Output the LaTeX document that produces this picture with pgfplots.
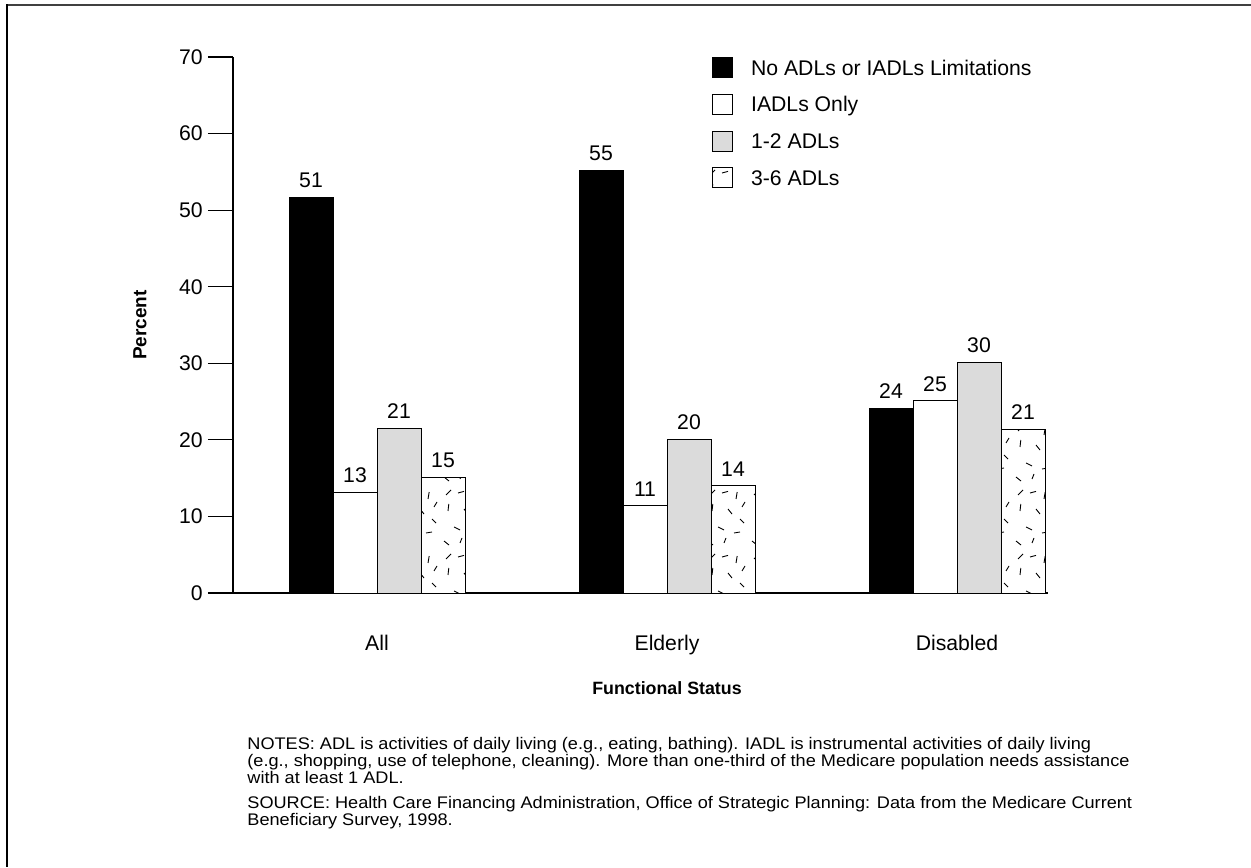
\documentclass[border=0pt]{standalone}
\usepackage{fontspec}
\setmainfont{Liberation Sans}
\newfontfamily\notesf[FakeStretch=1.08]{Liberation Sans}
\usepackage{pgfplots}
\usepackage{pgfplotstable}
\pgfplotsset{compat=1.18}
\usetikzlibrary{patterns}

\pgfdeclarepatternformonly{scatterdash}{\pgfpoint{-1pt}{-1pt}}{\pgfpoint{23pt}{33pt}}{\pgfpoint{22pt}{32pt}}{
  \pgfsetlinewidth{0.45pt}
  \pgfpathmoveto{\pgfpoint{3pt}{26pt}}\pgfpathlineto{\pgfpoint{5.5pt}{28.5pt}}
  \pgfpathmoveto{\pgfpoint{9pt}{27pt}}\pgfpathlineto{\pgfpoint{12pt}{27.8pt}}
  \pgfpathmoveto{\pgfpoint{16pt}{24pt}}\pgfpathlineto{\pgfpoint{16.6pt}{27.5pt}}
  \pgfpathmoveto{\pgfpoint{4pt}{18pt}}\pgfpathlineto{\pgfpoint{4.4pt}{21.5pt}}
  \pgfpathmoveto{\pgfpoint{12pt}{19pt}}\pgfpathlineto{\pgfpoint{14pt}{16.5pt}}
  \pgfpathmoveto{\pgfpoint{18pt}{14pt}}\pgfpathlineto{\pgfpoint{20pt}{12pt}}
  \pgfpathmoveto{\pgfpoint{7pt}{10pt}}\pgfpathlineto{\pgfpoint{10pt}{8.5pt}}
  \pgfpathmoveto{\pgfpoint{15pt}{7pt}}\pgfpathlineto{\pgfpoint{18pt}{7.5pt}}
  \pgfpathmoveto{\pgfpoint{2pt}{3pt}}\pgfpathlineto{\pgfpoint{4.5pt}{1pt}}
  \pgfpathmoveto{\pgfpoint{10pt}{2pt}}\pgfpathlineto{\pgfpoint{11pt}{4.5pt}}
  \pgfpathmoveto{\pgfpoint{19pt}{20pt}}\pgfpathlineto{\pgfpoint{20.5pt}{22.5pt}}
  \pgfusepath{stroke}}

\definecolor{lgray}{gray}{0.86}
\newcommand\tickfont{\fontsize{10.6}{12.7}\selectfont}
\newcommand\notefont{\notesf\fontsize{8.4}{10}\selectfont}

\pgfplotstableread{
x y lab
0 51.7 51
1 55.2 55
2 24.1 24
}\tblA
\pgfplotstableread{
x y lab
0 13.1 13
1 11.4 11
2 25.1 25
}\tblB
\pgfplotstableread{
x y lab
0 21.5 21
1 20.1 20
2 30.1 30
}\tblC
\pgfplotstableread{
x y lab
0 15.1 15
1 14.0 14
2 21.4 21
}\tblD

\begin{document}
\begin{tikzpicture}
\path[use as bounding box] (0,0) rectangle (625.5pt,433.5pt);
\draw[line width=0.8pt, black!75] (3.5pt,431pt) -- (625.5pt,431pt);
\draw[line width=1pt] (3.5pt,431.4pt) -- (3.5pt,0pt);
\begin{axis}[
  at={(116.5pt,137pt)}, anchor=south west,
  scale only axis, width=407.5pt, height=268pt,
  xmin=-0.4966, xmax=2.3138, ymin=0, ymax=70,
  axis x line*=bottom, axis y line*=left,
  axis line style={line width=0.6pt},
  ybar=0pt, bar width=22pt,
  xtick={0,1,2}, xticklabels={All,Elderly,Disabled},
  ytick={0,10,...,70},
  tick align=outside, major tick length=12.5pt,
  major x tick style={draw=none},
  y tick style={line width=0.6pt, black},
  tick label style={font=\tickfont},
  /pgf/number format/assume math mode=true,
  yticklabel style={inner sep=0pt, xshift=-2.5pt},
  xticklabel style={anchor=base, inner sep=0pt, yshift=-16pt},
  ylabel={Percent}, xlabel={Functional Status},
  ylabel style={at={(axis description cs:-0.1141,0.5)}, anchor=center, font=\fontsize{9.5}{11}\selectfont\bfseries},
  xlabel style={at={(axis description cs:0.5325,-0.1772)}, anchor=center, font=\fontsize{8.9}{11}\selectfont\bfseries},
  nodes near coords, point meta=explicit symbolic,
  every node near coord/.append style={font=\tickfont, inner sep=0pt, yshift=4.5pt, anchor=south},
  legend image code/.code={\draw[#1, draw=black, line width=0.5pt] (0pt,-5pt) rectangle (10pt,5pt);},
  legend style={at={(rel axis cs:0.5874,1.0006)}, anchor=north west, draw=none, fill=none,
    inner sep=0pt, row sep=7.9pt, column sep=9pt, font=\tickfont,
    nodes={inner sep=0pt, text height=8.8pt, text depth=1.2pt}},
  legend cell align=left,
  clip=false,
]
\addplot[draw=black, line width=0.5pt, fill=black] table[x=x,y=y,meta=lab] {\tblA};
\addlegendentry{No ADLs or IADLs Limitations}
\addplot[draw=black, line width=0.5pt, fill=white] table[x=x,y=y,meta=lab] {\tblB};
\addlegendentry{IADLs Only}
\addplot[draw=black, line width=0.5pt, fill=lgray] table[x=x,y=y,meta=lab] {\tblC};
\addlegendentry{1-2 ADLs}
\addplot[draw=black, line width=0.5pt, fill=white, postaction={pattern=scatterdash}] table[x=x,y=y,meta=lab] {\tblD};
\addlegendentry{3-6 ADLs}
\end{axis}
\node[anchor=base west, inner sep=0pt, font=\notefont] at (123.5pt,59pt) {NOTES: ADL is activities of daily living (e.g., eating, bathing). IADL is instrumental activities of daily living};
\node[anchor=base west, inner sep=0pt, font=\notefont] at (123.5pt,50.5pt) {(e.g., shopping, use of telephone, cleaning). More than one-third of the Medicare population needs assistance};
\node[anchor=base west, inner sep=0pt, font=\notefont] at (123.5pt,42pt) {with at least 1 ADL.};
\node[anchor=base west, inner sep=0pt, font=\notefont] at (123.5pt,29.5pt) {SOURCE: Health Care Financing Administration, Office of Strategic Planning: Data from the Medicare Current};
\node[anchor=base west, inner sep=0pt, font=\notefont] at (123.5pt,21pt) {Beneficiary Survey, 1998.};
\end{tikzpicture}
\end{document}
